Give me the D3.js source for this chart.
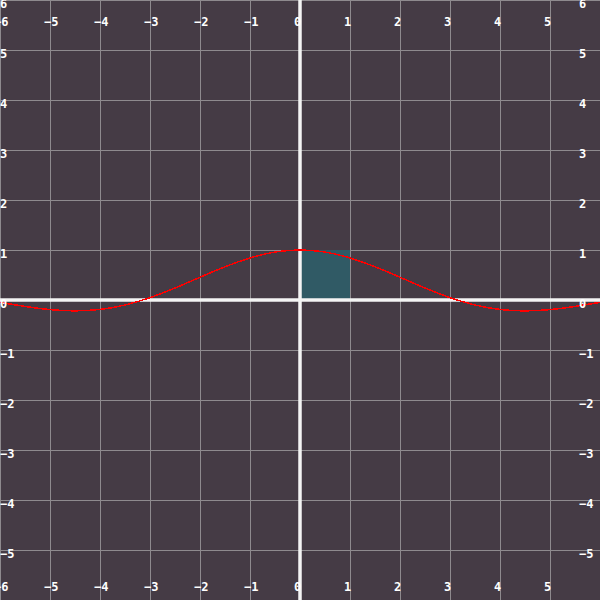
<!DOCTYPE html>
<html>
<head>
  <meta charset="utf-8">
  <script src="https://d3js.org/d3.v7.min.js"></script>
  <style>
    body { margin: 0; background: #453b45; }
    svg { display: block; }
    .lbl {
      font-family: "DejaVu Sans Mono", monospace;
      font-weight: bold;
      font-size: 12px;
      fill: #ffffff;
    }
  </style>
</head>
<body>
  <div id="chart"></div>
  <script>
    // curve samples (x, y)
    var curveX = [-6, -5.5, -5, -4.5, -4, -3.5, -3, -2.5, -2, -1.5, -1, -0.5, 0,
                  0.5, 1, 1.5, 2, 2.5, 3, 3.5, 4, 4.5, 5, 5.5, 6];
    var curveY = [-0.047, -0.128, -0.192, -0.217, -0.189, -0.100, 0.047, 0.239, 0.455, 0.665, 0.841, 0.959, 1,
                  0.959, 0.841, 0.665, 0.455, 0.239, 0.047, -0.100, -0.189, -0.217, -0.192, -0.128, -0.047];
    // shaded square corners
    var boxX = [0, 1];
    var boxY = [0, 1];
    // tick labels
    var xTicks = [-6, -5, -4, -3, -2, -1, 0, 1, 2, 3, 4, 5];
    var yTicks = [6, 5, 4, 3, 2, 1, 0, -1, -2, -3, -4, -5];
    var gridVals = d3.range(-6, 7);

    var width = 600, height = 600;

    var svg = d3.select("#chart")
      .append("svg")
      .attr("width", width)
      .attr("height", height);

    var x = d3.scaleLinear().domain([-6, 6]).range([0, width]);
    var y = d3.scaleLinear().domain([-6, 6]).range([height, 0]);

    function fmt(d) { return d < 0 ? "\u2212" + Math.abs(d) : String(d); }

    svg.append("rect")
      .attr("width", width)
      .attr("height", height)
      .attr("fill", "#453b45");

    // grid
    svg.append("g")
      .selectAll("line")
      .data(gridVals)
      .enter()
      .append("line")
      .attr("x1", function(d) { return x(d) + 0.5; })
      .attr("x2", function(d) { return x(d) + 0.5; })
      .attr("y1", 0)
      .attr("y2", height)
      .attr("stroke", "#8e8a8e")
      .attr("stroke-width", 1);

    svg.append("g")
      .selectAll("line")
      .data(gridVals)
      .enter()
      .append("line")
      .attr("y1", function(d) { return y(d) + 0.5; })
      .attr("y2", function(d) { return y(d) + 0.5; })
      .attr("x1", 0)
      .attr("x2", width)
      .attr("stroke", "#8e8a8e")
      .attr("stroke-width", 1);

    // shaded square
    svg.append("rect")
      .attr("x", x(boxX[0]))
      .attr("y", y(boxY[1]))
      .attr("width", x(boxX[1]) - x(boxX[0]))
      .attr("height", y(boxY[0]) - y(boxY[1]))
      .attr("fill", "#305a65");

    // axes
    svg.append("line")
      .attr("x1", x(0)).attr("x2", x(0))
      .attr("y1", 0).attr("y2", height)
      .attr("stroke", "#f4f4f4")
      .attr("stroke-width", 3.5);

    svg.append("line")
      .attr("y1", y(0)).attr("y2", y(0))
      .attr("x1", 0).attr("x2", width)
      .attr("stroke", "#f4f4f4")
      .attr("stroke-width", 3.5);

    // curve
    var pts = curveX.map(function(d, i) { return [d, curveY[i]]; });
    var line = d3.line()
      .x(function(d) { return x(d[0]); })
      .y(function(d) { return y(d[1]); })
      .curve(d3.curveNatural);

    svg.append("path")
      .datum(pts)
      .attr("d", line)
      .attr("fill", "none")
      .attr("stroke", "#ff0000")
      .attr("stroke-width", 1.5)
      .style("shape-rendering", "crispEdges");

    // x labels top and bottom
    [26, 591].forEach(function(base) {
      svg.append("g")
        .selectAll("text")
        .data(xTicks)
        .enter()
        .append("text")
        .attr("class", "lbl")
        .attr("x", function(d) { return x(d) - 6; })
        .attr("y", base)
        .text(fmt);
    });

    // y labels left and right
    [0, 579].forEach(function(left) {
      svg.append("g")
        .selectAll("text")
        .data(yTicks)
        .enter()
        .append("text")
        .attr("class", "lbl")
        .attr("x", left)
        .attr("y", function(d) { return y(d) + 8; })
        .text(fmt);
    });
  </script>
</body>
</html>
